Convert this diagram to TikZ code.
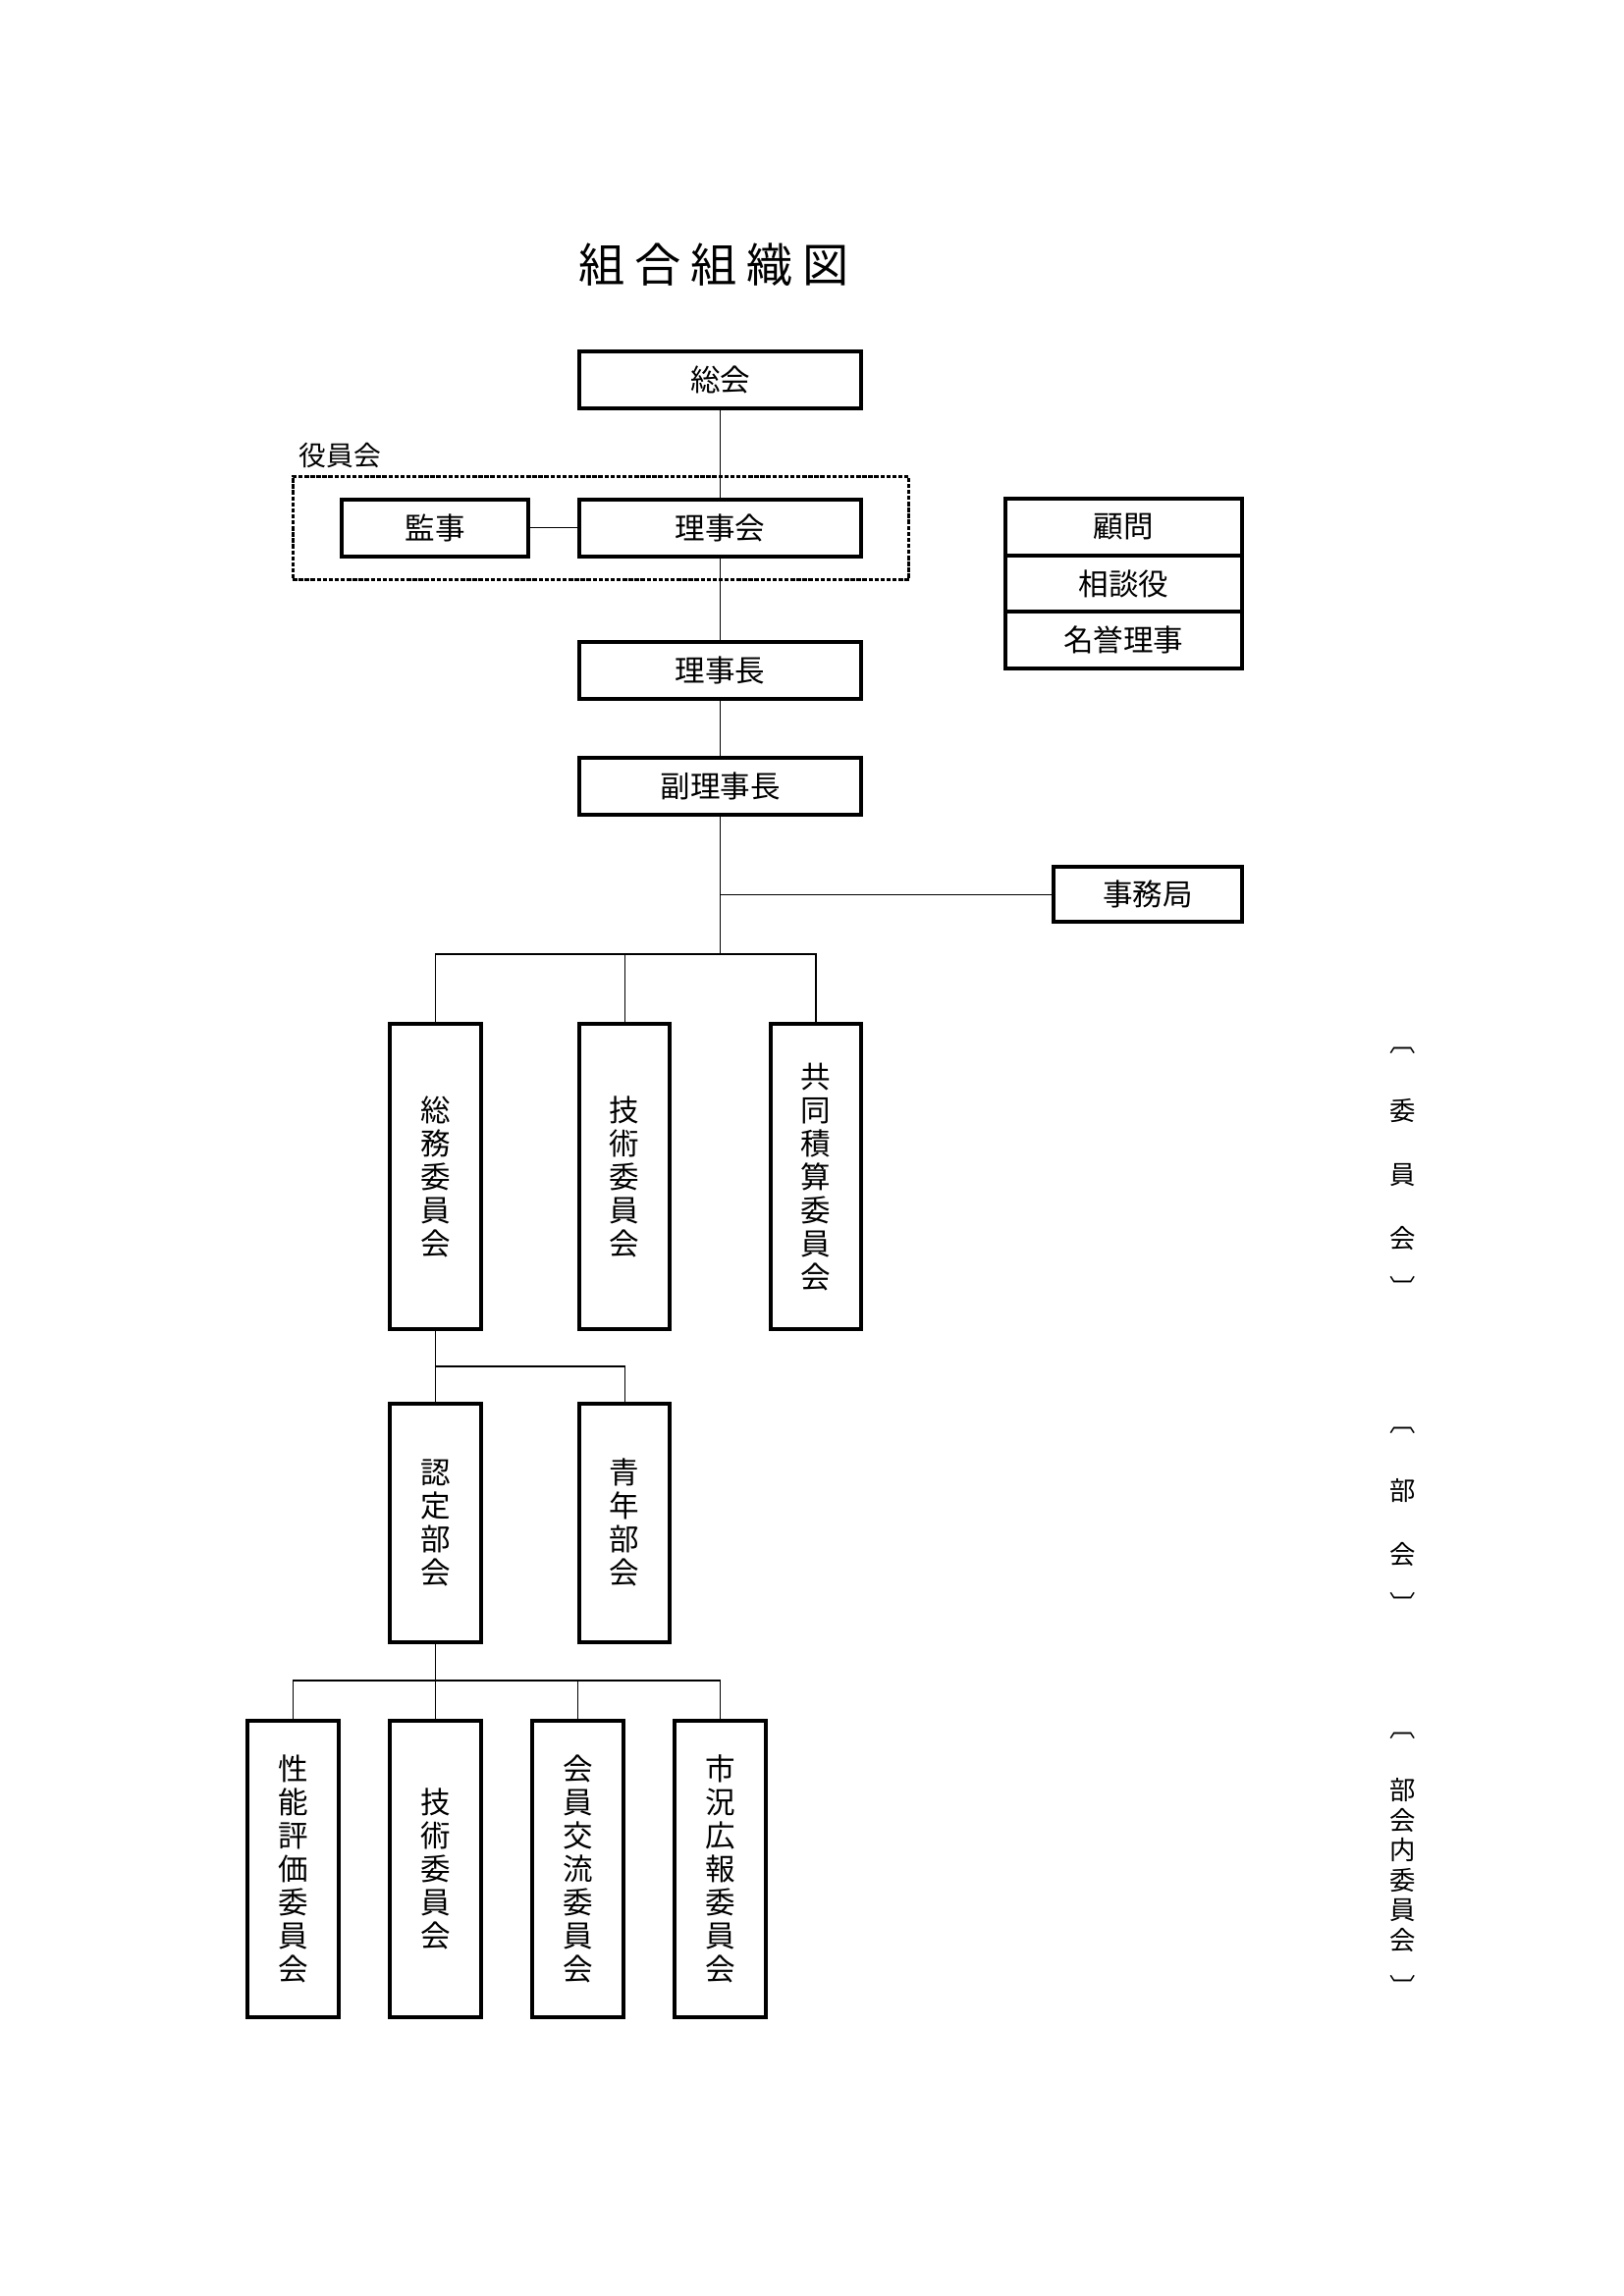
\documentclass[tikz,border=0pt]{standalone}
\usepackage{fontspec}
\setmainfont{Noto Sans CJK JP}
\newcommand\pxu{0.360121pt}
\begin{document}
\begin{tikzpicture}[x=0.360121pt,y=-0.360121pt,
  box/.style 2 args={draw, line width=1.4pt, minimum width=#1*\pxu, minimum height=#2*\pxu,
    inner sep=0pt, align=center, font=\fontsize{11pt}{12.25pt}\selectfont},
  conn/.style={line width=0.45pt},
  dashbox/.style={draw, line width=1.1pt, dash pattern=on 1.6pt off 0.6pt, inner sep=0pt},
  sidelbl/.style={align=center, inner sep=0pt, font=\fontsize{9.5pt}{#1}\selectfont},
  brk/.style={inner sep=0pt, font=\fontsize{9.5pt}{11pt}\selectfont}
]
\useasboundingbox (0,0) rectangle (1653,2339);
\begin{scope}[shift={(1,1.5)}, scale=0.9933]

% title
\node[inner sep=0pt, font=\fontsize{17pt}{20pt}\selectfont] (title) at (731,270)
  {組\kern3.5pt合\kern3.5pt組\kern3.5pt織\kern3.5pt図};

% top chain
\node[box={287}{58}] (soukai) at (737.5,388) {総会};
\node[dashbox, minimum width=627.6*\pxu, minimum height=105.2*\pxu] (yakuinbox) at (615,540) {};
\node[anchor=west, inner sep=0pt, font=\fontsize{10pt}{12pt}\selectfont] (yakuinlbl) at (305,466) {役員会};
\node[box={190.6}{58}] (kanji) at (445,540) {監事};
\node[box={287}{58}] (rijikai) at (737.5,540) {理事会};
\node[box={287}{58}] (rijicho) at (737.5,686) {理事長};
\node[box={287}{58}] (fukurijicho) at (737.5,805) {副理事長};
\node[box={192}{56}] (jimukyoku) at (1176,916) {事務局};

% right stack
\node[box={241}{57.6}] (komon) at (1151,539) {顧問};
\node[box={241}{57.6}] (sodan) at (1151,597) {相談役};
\node[box={241}{57.6}] (meiyo) at (1151,655) {名誉理事};

% row 1
\node[box={92.3}{311}] (somu) at (445.5,1205.5) {総\\務\\委\\員\\会};
\node[box={92.3}{311}] (gijutsu) at (639.5,1205.5) {技\\術\\委\\員\\会};
\node[box={92.3}{311}] (kyodo) at (835.5,1205.5) {共\\同\\積\\算\\委\\員\\会};

% row 2
\node[box={92.3}{243}] (nintei) at (445.5,1560) {認\\定\\部\\会};
\node[box={92.3}{243}] (seinen) at (639.5,1560) {青\\年\\部\\会};

% row 3
\node[box={92.3}{302}] (seino) at (299.5,1915.5) {性\\能\\評\\価\\委\\員\\会};
\node[box={92.3}{302}] (gijutsu2) at (445.5,1915.5) {技\\術\\委\\員\\会};
\node[box={92.3}{302}] (kaiin) at (591.5,1915.5) {会\\員\\交\\流\\委\\員\\会};
\node[box={92.3}{302}] (shikyo) at (737.5,1915.5) {市\\況\\広\\報\\委\\員\\会};

% junctions
\coordinate (j1) at (737.5,977);
\coordinate (j2) at (445.5,1400);
\coordinate (j3) at (445.5,1722);

% connectors
\draw[conn] (soukai.south) -- (rijikai.north);
\draw[conn] (kanji.east) -- (rijikai.west);
\draw[conn] (rijikai.south) -- (rijicho.north);
\draw[conn] (rijicho.south) -- (fukurijicho.north);
\draw[conn] (fukurijicho.south) -- (j1);
\draw[conn] (jimukyoku.west) -- (jimukyoku.west -| fukurijicho.south);
\draw[conn] (somu.north) -- (somu.north |- j1) -- (kyodo.north |- j1) -- (kyodo.north);
\draw[conn] (gijutsu.north) -- (gijutsu.north |- j1);
\draw[conn] (somu.south) -- (j2) -- (seinen.north |- j2) -- (seinen.north);
\draw[conn] (j2) -- (nintei.north);
\draw[conn] (nintei.south) -- (j3);
\draw[conn] (seino.north) -- (seino.north |- j3) -- (shikyo.north |- j3) -- (shikyo.north);
\draw[conn] (gijutsu2.north) -- (gijutsu2.north |- j3);
\draw[conn] (kaiin.north) -- (kaiin.north |- j3);

% side labels
\node[brk] (b1t) at (1437,1076) {︹};
\node[sidelbl=23.4pt] (lbl1) at (1437,1203) {委\\員\\会};
\node[brk] (b1b) at (1437,1319) {︺};
\node[brk] (b2t) at (1437,1466) {︹};
\node[sidelbl=23.4pt] (lbl2) at (1437,1560) {部\\会};
\node[brk] (b2b) at (1437,1643) {︺};
\node[brk] (b3t) at (1437,1779) {︹};
\node[sidelbl=11pt] (lbl3) at (1437,1911.5) {部\\会\\内\\委\\員\\会};
\node[brk] (b3b) at (1437,2036) {︺};
\end{scope}
\end{tikzpicture}
\end{document}
